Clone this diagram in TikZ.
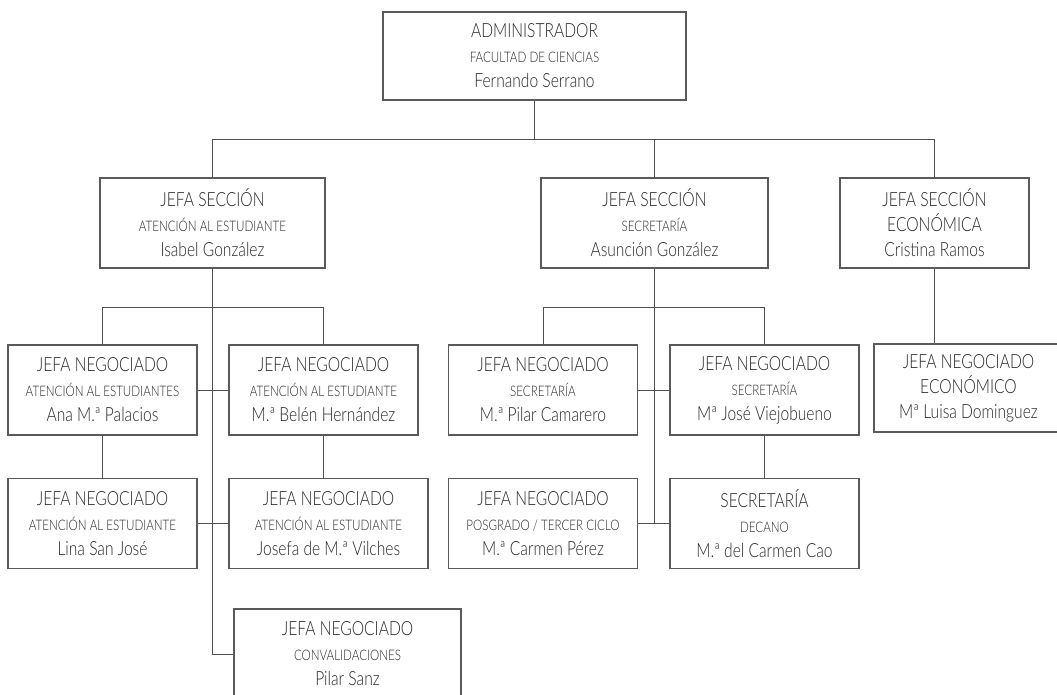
\documentclass[tikz,border=0pt]{standalone}
\usepackage{fontspec}
\setmainfont{Lato}[UprightFont=* Light, FakeStretch=0.8]
\definecolor{lc}{HTML}{505050}
\definecolor{bc}{HTML}{5A5A5A}
\definecolor{tc}{HTML}{262626}
\newcommand{\bxtext}[3]{#1\\{\fontsize{14.5}{25}\selectfont #2}\\#3}
\begin{document}
\begin{tikzpicture}[x=1pt,y=-1pt,
  orgbox/.style={draw=bc, line width=1.1pt, inner sep=0pt, align=center,
    text=tc, font=\fontsize{19.5}{25}\selectfont, minimum height=89pt},
  link/.style={draw=lc, line width=1pt}]
\useasboundingbox (0,0) rectangle (1057,695);
% level 0
\node[orgbox, minimum width=303pt, minimum height=88pt] (admin) at (534.5,56)
  {\bxtext{ADMINISTRADOR}{FACULTAD DE CIENCIAS}{Fernando Serrano}};
% level 1
\node[orgbox, minimum width=225pt, minimum height=90pt] (secA) at (212.5,223)
  {\bxtext{JEFA SECCIÓN}{ATENCIÓN AL ESTUDIANTE}{Isabel González}};
\node[orgbox, minimum width=227pt, minimum height=90pt] (secS) at (654.5,223)
  {\bxtext{JEFA SECCIÓN}{SECRETARÍA}{Asunción González}};
\node[orgbox, minimum width=189pt, minimum height=90pt] (secE) at (934.5,223)
  {JEFA SECCIÓN\\ECONÓMICA\\Cristina Ramos};
% left subtree
\node[orgbox, minimum width=189pt, minimum height=90pt] (ana) at (102.5,390)
  {\bxtext{JEFA NEGOCIADO}{ATENCIÓN AL ESTUDIANTES}{Ana M.ª Palacios}};
\node[orgbox, minimum width=189pt, minimum height=90pt] (belen) at (323.5,390)
  {\bxtext{JEFA NEGOCIADO}{ATENCIÓN AL ESTUDIANTE}{M.ª Belén Hernández}};
\node[orgbox, minimum width=189pt, minimum height=90pt] (lina) at (102.5,523.5)
  {\bxtext{JEFA NEGOCIADO}{ATENCIÓN AL ESTUDIANTE}{Lina San José}};
\node[orgbox, minimum width=199pt, minimum height=90pt] (josefa) at (328.5,523.5)
  {\bxtext{JEFA NEGOCIADO}{ATENCIÓN AL ESTUDIANTE}{Josefa de M.ª Vilches}};
\node[orgbox, minimum width=227pt, minimum height=90pt] (pilarS) at (347.5,654)
  {\bxtext{JEFA NEGOCIADO}{CONVALIDACIONES}{Pilar Sanz}};
% middle subtree
\node[orgbox, minimum width=189pt, minimum height=90pt] (camarero) at (543,390)
  {\bxtext{JEFA NEGOCIADO}{SECRETARÍA}{M.ª Pilar Camarero}};
\node[orgbox, minimum width=189pt, minimum height=90pt] (viejo) at (764.5,390)
  {\bxtext{JEFA NEGOCIADO}{SECRETARÍA}{Mª José Viejobueno}};
\node[orgbox, minimum width=189pt, minimum height=90pt] (carmen) at (543,523.5)
  {\bxtext{JEFA NEGOCIADO}{POSGRADO / TERCER CICLO}{M.ª Carmen Pérez}};
\node[orgbox, minimum width=189pt, minimum height=90pt] (decano) at (764.5,523.5)
  {\bxtext{SECRETARÍA}{DECANO}{M.ª del Carmen Cao}};
% right subtree
\node[orgbox, minimum width=189pt, minimum height=88pt] (luisa) at (968.5,388)
  {JEFA NEGOCIADO\\ECONÓMICO\\Mª Luisa Dominguez};
% connectors
\coordinate (bus) at (534.5,140);
\coordinate (busA) at (0,307);
\coordinate (busS) at (0,307);
\draw[link] (admin.south) -- (bus);
\draw[link] (secA.north) -- (secA.north |- bus) -- (secE.north |- bus) -- (secE.north);
\draw[link] (secS.north) -- (secS.north |- bus);
% left
\draw[link] (secA.south) -- (secA.south |- pilarS.west) -- (pilarS.west);
\draw[link] (ana.north) -- (ana.north |- busA) -- (belen.north |- busA) -- (belen.north);
\draw[link] (ana.east) -- (belen.west);
\draw[link] (lina.east) -- (josefa.west);
\draw[link] (ana.south) -- (lina.north);
\draw[link] (belen.south) -- (belen.south |- josefa.north);
% middle
\draw[link] (secS.south) -- (secS.south |- carmen.east);
\draw[link] (camarero.north) -- (camarero.north |- busS) -- (viejo.north |- busS) -- (viejo.north);
\draw[link] (camarero.east) -- (viejo.west);
\draw[link] (carmen.east) -- (decano.west);
\draw[link] (viejo.south) -- (decano.north);
% right
\draw[link] (secE.south) -- (secE.south |- luisa.north);
\end{tikzpicture}
\end{document}
